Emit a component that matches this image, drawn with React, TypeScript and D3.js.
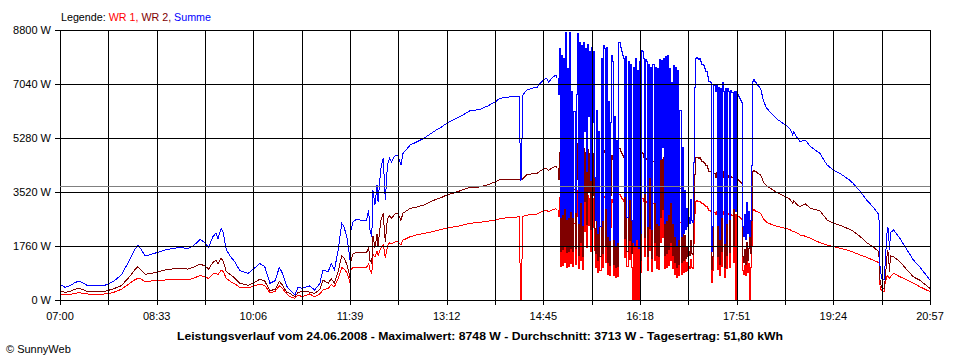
import React from "react";
import * as d3 from "d3";

// minutes after 07:00
const times = [
  0,3,5,10,14,18,22,26,35,43,
  51,59,67,72,75,78,82,91,101,110,
  117,123,128,135,140,143,147,150,152,155,
  157,160,164,168,173,181,187,192,197,202,
  207,211,214,218,221,226,229,233,240,245,
  250,253,258,261,264,268,271,273,276,278,
  279,280,282,285,290,295,297,298,300,301,
  303,305,306,308,309,311,312,313,315,317,
  319,322,325,328,330,337,343,350,355,361,
  367,372,378,385,390,394,404,412,419,423,
  428,433,438,442,443,444,445,449,454,459,
  462,466,468,470,472,474,476,477,478,
  479,480,481,482,483,484,485,486,487,488,
  489,490,491,492,493,494,495,496,497,498,
  499,500,501,502,503,504,505,506,507,508,
  509,510,511,512,513,514,515,516,517,518,
  519,520,521,522,523,524,525,526,527,528,
  529,530,531,532,533,534,535,536,537,538,
  539,540,541,542,543,544,545,546,547,548,
  549,550,551,552,553,554,555,556,557,558,
  559,560,561,562,563,564,565,566,567,568,
  569,570,571,572,573,574,575,576,577,578,
  579,580,581,582,583,584,585,586,587,588,
  589,590,591,592,593,594,595,596,597,598,
  599,600,601,602,603,604,605,606,607,608,
  609,610,611,612,613,614,615,616,617,618,
  619,620,621,622,623,624,625,626,627,628,
  629,630,631,632,633,634,635,636,637,638,
  639,640,641,642,643,644,645,646,647,648,
  649,650,651,652,653,654,655,656,657,658,
  659,660,661,662,663,664,665,666,667,668,
  669,670,
  674,677,680,684,686,691,698,702,705,706,
  709,712,717,722,727,731,738,744,750,755,
  760,763,770,776,782,787,788,789,791,793,
  794,796,797,798,799,802,808,815,821,827,837,
];

const summe = [
  489,450,413,470,560,619,560,478,470,478,
  597,815,1304,1650,1792,1650,1434,1521,1630,1690,
  1706,1673,1760,1977,1847,1706,2064,2173,2000,2336,
  2200,1630,1420,1249,956,869,1032,1195,1086,543,
  630,1065,869,456,326,163,413,380,456,326,
  543,978,923,1195,978,1700,2498,2400,2064,1575,
  1300,2300,2553,2629,2600,2607,2933,2300,2064,3600,
  3100,3748,3200,4019,4345,4617,3900,3259,4400,4617,
  4500,4693,4726,4400,4780,5052,5150,5269,5380,5520,
  5640,5758,5860,5980,6080,6160,6214,6330,6464,6573,
  6600,6620,6640,6648,3911,3930,6660,6844,6900,6932,
  7062,7190,7225,7100,7180,7250,7310,7330,7250,
  6700,8200,2700,7980,2800,7900,3000,8745,2650,7550,
  2700,8745,2900,6800,2700,6150,2880,6700,8700,2500,
  8420,3200,8300,2450,8400,5500,8200,4200,8350,6000,
  8100,3900,8250,5800,8100,4000,2600,6200,2200,5500,
  2400,7900,2600,8300,8200,3000,8250,2100,6500,1950,
  5800,8000,7800,2000,6000,1800,5200,1900,8400,8420,
  8250,8100,8000,7900,3400,7950,2700,7800,3300,7700,
  2600,1900,7600,1800,7900,2000,7500,1700,7800,2200,
  8150,8100,7900,3500,7850,7800,2400,7700,4000,7600,
  2300,7700,3200,7600,2500,7550,2450,7850,4600,7820,
  5000,7900,2500,7950,2600,8000,2800,7550,3200,7100,
  2500,7650,2100,7600,1800,7500,2000,6200,2100,5000,
  2200,3600,2300,3000,2400,2700,2500,3300,2600,2550,
  4500,6950,7880,7920,7900,7850,7880,7800,7700,7700,
  7650,7550,7450,7300,7150,7150,7100,1600,2400,7000,
  7000,6800,7050,2450,6950,2000,6900,2700,7100,6800,
  1850,6900,2500,6900,6800,2650,6850,6780,3000,6800,
  2900,6800,6700,6650,6600,6520,6450,2400,2100,2800,
  2000,3200,2200,2900,2100,2600,4400,7150,7200,7150,
  7100,7050,
  6899,6464,6247,6100,6029,5866,5703,5595,5377,5480,
  5300,5160,5214,4997,4880,4780,4400,4237,4130,4019,
  3900,3802,3531,3259,3041,2824,2607,978,660,660,
  1304,2390,2300,1630,2200,2281,2010,1630,1304,1086,652,
];

const wr1 = [
  185,175,165,180,215,239,220,196,190,196,
  240,348,540,660,706,680,597,630,652,670,
  673,665,700,804,750,695,840,880,820,978,
  930,706,600,530,413,391,460,520,470,240,
  280,460,380,200,109,60,165,109,196,109,
  200,326,380,500,430,720,1060,1020,900,700,
  570,1000,1054,1065,1060,1065,1195,1000,869,1500,
  1400,1600,1450,1630,1700,1792,1600,1358,1750,1868,
  1840,1890,1901,1800,1950,2064,2120,2173,2200,2250,
  2300,2336,2380,2420,2460,2498,2530,2570,2607,2650,
  2670,2690,2700,2716,0,0,2720,2760,2790,2803,
  2850,2920,2930,2880,2910,2940,2960,2970,2940,
  2750,3360,1110,3270,1150,3240,1230,3590,1090,3100,
  1110,3590,1190,2790,1110,2520,1180,2750,3570,1030,
  3450,1310,3400,1000,3440,2260,3360,1720,3420,2460,
  3320,1600,3380,2380,3320,1640,1070,2540,900,2260,
  980,3240,1070,3400,3360,1230,3380,860,2670,800,
  2380,3280,3200,820,2460,740,2130,780,3440,3450,
  3380,3320,3280,3240,1390,3260,1110,3200,1350,3160,
  1070,0,3120,0,3240,0,3080,0,3200,900,
  3340,3320,3240,1440,3220,3200,980,3160,1640,3120,
  940,3160,1310,3120,1030,3100,1000,3220,1890,3210,
  2050,3240,1030,3260,1070,3280,1150,3100,1310,2910,
  1030,3140,860,3120,740,3080,820,2540,860,2050,
  900,1480,940,1230,980,1110,1030,1350,1070,1050,
  1850,2850,3230,3250,3240,3220,3230,3200,3160,3160,
  3140,3100,3050,2990,2930,2930,2910,600,980,2870,
  2870,2790,2890,1000,2850,820,2830,1110,2910,2790,
  760,2830,1030,2830,2790,1090,2810,2780,1230,2790,
  0,2790,2750,2730,2710,2670,2640,980,860,1150,
  820,1310,900,1190,0,1070,1800,2930,2950,2930,
  2910,2890,
  2825,2629,2530,2470,2444,2390,2336,2300,2227,2240,
  2190,2120,2080,2010,1930,1870,1792,1738,1690,1650,
  1600,1560,1467,1390,1304,1230,1195,400,270,270,
  600,800,760,706,760,869,760,652,550,435,272,
];

const wr2 = [
  304,275,248,290,345,380,340,282,280,282,
  357,467,764,990,1086,970,837,891,978,1020,
  1033,1008,1060,1173,1097,1011,1224,1293,1180,1358,
  1270,924,820,719,543,478,572,675,616,303,
  350,605,489,256,217,103,248,271,260,217,
  343,652,543,695,548,980,1438,1380,1164,875,
  730,1300,1499,1564,1540,1542,1738,1300,1195,2100,
  1700,2148,1750,2389,2645,2825,2300,1901,2650,2749,
  2660,2803,2825,2600,2830,2988,3030,3096,3180,3270,
  3340,3422,3480,3560,3620,3662,3684,3760,3857,3923,
  3930,3930,3940,3932,3911,3930,3940,4084,4110,4129,
  4212,4270,4295,4220,4270,4310,4350,4360,4310,
  3950,4840,1590,4710,1650,4660,1770,5155,1560,4450,
  1590,5155,1710,4010,1590,3630,1700,3950,5130,1470,
  4970,1890,4900,1450,4960,3240,4840,2480,4930,3540,
  4780,2300,4870,3420,4780,2360,1530,3660,1300,3240,
  1420,4660,1530,4900,4840,1770,4870,1240,3830,1150,
  3420,4720,4600,1180,3540,1060,3070,1120,4960,4970,
  4870,4780,4720,4660,2010,4690,1590,4600,1950,4540,
  1530,1900,4480,1800,4660,2000,4420,1700,4600,1300,
  4810,4780,4660,2060,4630,4600,1420,4540,2360,4480,
  1360,4540,1890,4480,1470,4450,1450,4630,2710,4610,
  2950,4660,1470,4690,1530,4720,1650,4450,1890,4190,
  1470,4510,1240,4480,1060,4420,1180,3660,1240,2950,
  1300,2120,1360,1770,1420,1590,1470,1950,1530,1500,
  2650,4100,4650,4670,4660,4630,4650,4600,4540,4540,
  4510,4450,4400,4310,4220,4220,4190,1000,1420,4130,
  4130,4010,4160,1450,4100,1180,4070,1590,4190,4010,
  1090,4070,1470,4070,4010,1560,4040,4000,1770,4010,
  2900,4010,3950,3920,3890,3850,3810,1420,1240,1650,
  1180,1890,1300,1710,2100,1530,2600,4220,4250,4220,
  4190,4160,
  4074,3835,3717,3630,3585,3476,3367,3295,3150,3240,
  3110,3040,3134,2987,2950,2910,2608,2499,2440,2369,
  2300,2242,2064,1869,1737,1594,1412,578,390,390,
  704,1590,1540,924,1440,1412,1250,978,754,651,380,
];

// cloudy period with minute-by-minute readings (drawn as steps)
const denseStart = 478;
const denseEnd = 670;

const yTicks = [0, 1760, 3520, 5280, 7040, 8800];
const xTickLabels = ["07:00", "08:33", "10:06", "11:39", "13:12", "14:45", "16:18", "17:51", "19:24", "20:57"];
const gridStepMinutes = 46.5;
const average = 3713;
const totalMinutes = 837;
const titleText =
  "Leistungsverlauf vom 24.06.2008 - Maximalwert: 8748 W - Durchschnitt: 3713 W - Tagesertrag: 51,80 kWh";

const FONT = "'Liberation Sans', Arial, sans-serif";

function toMinutes(label: string) {
  const [h, m] = label.split(":").map(Number);
  return (h - 7) * 60 + m;
}

export default function App() {
  const x = d3.scaleLinear().domain([0, totalMinutes]).range([60, 930]);
  const y = d3.scaleLinear().domain([0, 8800]).range([300, 30]);
  const n = Math.min(times.length, summe.length, wr1.length, wr2.length);
  const idx = d3.range(n);
  const inDense = (i: number) => times[i] >= denseStart && times[i] <= denseEnd;
  const smoothDefined = (i: number) => times[i] <= denseStart || times[i] >= denseEnd;

  const smooth = (vals: number[]) =>
    d3
      .line<number>()
      .defined(smoothDefined)
      .x((i) => x(times[i]))
      .y((i) => y(vals[i]))(idx) || "";
  const stepped = (vals: number[]) =>
    d3
      .line<number>()
      .defined(inDense)
      .curve(d3.curveStepAfter)
      .x((i) => Math.round(x(times[i])) + 0.5)
      .y((i) => Math.round(y(vals[i])) + 0.5)(idx) || "";

  const snap = (v: number) => Math.round(v) + 0.5;
  const gridTimes = d3.range(0, totalMinutes + 0.01, gridStepMinutes);

  const series: [number[], string][] = [
    [wr1, "#ff0000"],
    [wr2, "#800000"],
    [summe, "#0000ff"],
  ];

  return (
    <svg
      width={960}
      height={360}
      style={{ position: "absolute", left: 0, top: 0, background: "#fff" }}
      fontFamily={FONT}
    >
      <rect x={0} y={0} width={960} height={360} fill="#fff" />
      <text x={61} y={21} fontSize={11.5} textLength={150} lengthAdjust="spacingAndGlyphs">
        <tspan fill="#000">Legende: </tspan>
        <tspan fill="#ff0000">WR 1, </tspan>
        <tspan fill="#800000">WR 2, </tspan>
        <tspan fill="#0000ff">Summe</tspan>
      </text>

      {/* data */}
      {series.map(([vals, color]) => (
        <g key={color}>
          <path d={smooth(vals)} fill="none" stroke={color} strokeWidth={1} shapeRendering="crispEdges" />
          <path d={stepped(vals)} fill="none" stroke={color} strokeWidth={1} shapeRendering="crispEdges" />
        </g>
      ))}

      {/* grid */}
      {yTicks.map((v) => (
        <g key={"y" + v}>
          <line x1={55} x2={930} y1={snap(y(v))} y2={snap(y(v))} stroke="#000" strokeWidth={1} />
          <text x={51} y={y(v)} dy="0.35em" textAnchor="end" fontSize={11} fill="#000">
            {`${v} W`}
          </text>
        </g>
      ))}
      {gridTimes.map((t) => (
        <line
          key={"x" + t}
          x1={snap(x(t))}
          x2={snap(x(t))}
          y1={30}
          y2={305}
          stroke="#000"
          strokeWidth={1}
        />
      ))}
      {xTickLabels.map((lab) => (
        <text key={lab} x={x(toMinutes(lab))} y={320} textAnchor="middle" fontSize={11} fill="#000">
          {lab}
        </text>
      ))}
      <line x1={60} x2={930} y1={snap(y(average))} y2={snap(y(average))} stroke="#808080" strokeWidth={1} />

      <text
        x={480}
        y={340}
        textAnchor="middle"
        fontSize={11.5}
        fontWeight="bold"
        fill="#000"
        textLength={606}
        lengthAdjust="spacingAndGlyphs"
      >
        {titleText}
      </text>
      <text x={6} y={353} fontSize={11} fill="#000">
        © SunnyWeb
      </text>
    </svg>
  );
}
